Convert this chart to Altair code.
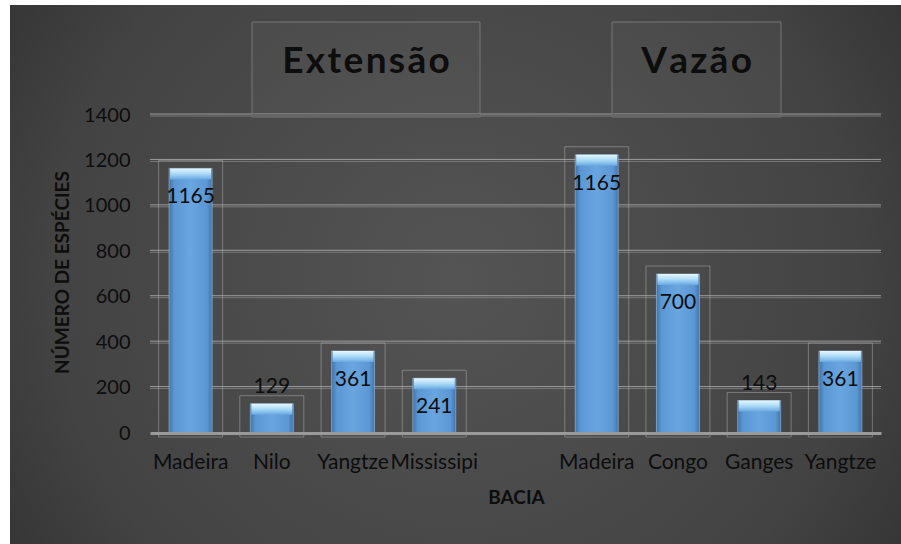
import json
import altair as alt
import pandas as pd

# ---- data ----
rivers = ["Madeira", "Nilo", "Yangtze", "Mississipi", "", "Madeira", "Congo", "Ganges", "Yangtze"]
bar_heights = [1165, 129, 361, 241, None, 1225, 700, 143, 361]
value_labels = ["1165", "129", "361", "241", "", "1165", "700", "143", "361"]
group_titles = ["Extensão", "Vazão"]
y_ticks = [0, 200, 400, 600, 800, 1000, 1200, 1400]

keys = [str(i) for i in range(len(rivers))]
rows = [
    {"key": k, "value": v, "label": l}
    for k, v, l in zip(keys, bar_heights, value_labels)
    if v is not None
]
df = pd.DataFrame(rows)
grid_df = pd.DataFrame({"value": y_ticks[1:]})

W, H = 731, 318
FONT = "Lato"
TXT = "#0d0d0d"
YSCALE = alt.Scale(domain=[0, 1400], nice=False)

label_expr = json.dumps(rivers) + "[toNumber(datum.value)]"

xs = alt.X(
    "key:N",
    scale=alt.Scale(domain=keys, paddingInner=0.47, paddingOuter=0.235),
    axis=alt.Axis(
        title="BACIA", labelExpr=label_expr, labelAngle=0, labelFontSize=21,
        labelColor=TXT, labelFont=FONT, labelPadding=18, ticks=False,
        domainColor="#9a9a9a", domainWidth=3, grid=False, zindex=1,
        titleFontSize=19, titleFont=FONT, titleFontWeight="bold", titleColor=TXT,
        titleX=366, titleY=64, titleBaseline="middle", titleAlign="center",
    ),
)
y_axis = alt.Axis(
    title="NÚMERO DE ESPÉCIES", values=y_ticks, format="d", labelFontSize=20,
    labelColor=TXT, labelFont=FONT, labelPadding=20, ticks=False, domain=False,
    grid=False, zindex=1,
    titleFontSize=19, titleFont=FONT, titleFontWeight="bold", titleColor=TXT,
    titleX=-88, titleY=157, titleAngle=-90, titleAlign="center", titleBaseline="middle",
)
ys = alt.Y("value:Q", scale=YSCALE, axis=y_axis)

base = alt.Chart(df)
one = pd.DataFrame({"a": [0]})

# background panel (radial dark gradient) covering the canvas except the white frame
bg = alt.Chart(one).mark_rect(
    fill=alt.RadialGradient(
        gradient="radial", x1=0.5, y1=0.5, x2=0.5, y2=0.5, r1=0, r2=0.75,
        stops=[alt.GradientStop(offset=0, color="#545454"),
               alt.GradientStop(offset=0.6, color="#434343"),
               alt.GradientStop(offset=1, color="#262626")],
    )
).encode(x=alt.value(-140), x2=alt.value(751), y=alt.value(-110), y2=alt.value(429))

# horizontal gridlines (double light lines)
grid_a = alt.Chart(grid_df).mark_rule(color="#9c9c9c", strokeWidth=1, yOffset=-1).encode(
    y=ys, x=alt.value(0), x2=alt.value(W))
grid_b = alt.Chart(grid_df).mark_rule(color="#7a7a7a", strokeWidth=1, yOffset=1).encode(
    y=ys, x=alt.value(0), x2=alt.value(W))

# title boxes and titles (layout decorations, pixel placed)
deco = []
for title, x0, x1 in zip(group_titles, [102, 462], [330, 631]):
    deco.append(alt.Chart(one).mark_rect(
        fill="#ffffff", fillOpacity=0.03, stroke="#777777", strokeWidth=1
    ).encode(x=alt.value(x0), x2=alt.value(x1), y=alt.value(-93), y2=alt.value(2)))
    deco.append(alt.Chart(one).mark_rect(fill="#666666").encode(
        x=alt.value(x0), x2=alt.value(x1), y=alt.value(-1), y2=alt.value(2)))
    deco.append(alt.Chart(one).mark_text(
        font=FONT, fontSize=37, fontWeight="bold", color="#0d0d0d", baseline="middle",
        text="\u200a".join(title),
    ).encode(x=alt.value((x0 + x1) / 2), y=alt.value(-53)))

# faint outline boxes around each bar
outline = base.mark_bar(
    size=64, fill="#ffffff", fillOpacity=0.0, stroke="#bbbbbb", strokeOpacity=0.45,
    strokeWidth=1, yOffset=-8, y2Offset=4,
).encode(x=xs, y=ys, y2=alt.datum(0))

bars = base.mark_bar(
    size=43, stroke="#9fc3e6", strokeWidth=1, strokeOpacity=0.6,
    fill=alt.LinearGradient(
        gradient="linear", x1=0, y1=0, x2=1, y2=0,
        stops=[alt.GradientStop(offset=0, color="#3f74ad"),
               alt.GradientStop(offset=0.12, color="#5b97d3"),
               alt.GradientStop(offset=0.5, color="#69a6e0"),
               alt.GradientStop(offset=0.88, color="#5b97d3"),
               alt.GradientStop(offset=1, color="#3f74ad")],
    ),
).encode(x=xs, y=ys, y2=alt.datum(0))

bevel = base.mark_bar(
    size=41, y2Offset=11,
    fill=alt.LinearGradient(
        gradient="linear", x1=0, y1=0, x2=0, y2=1,
        stops=[alt.GradientStop(offset=0, color="#e8f7ff"),
               alt.GradientStop(offset=0.5, color="#a9daf6"),
               alt.GradientStop(offset=1, color="#6aa8e2")],
    ),
).encode(x=xs, y=ys, y2="value:Q")

lab_in = base.transform_filter("datum.value >= 200").mark_text(
    font=FONT, fontSize=21, color=TXT, baseline="middle", dy=29,
).encode(x=xs, y=ys, text="label:N")
lab_out = base.transform_filter("datum.value < 200").mark_text(
    font=FONT, fontSize=21, color=TXT, baseline="middle", dy=-17,
).encode(x=xs, y=ys, text="label:N")

chart = alt.layer(
    bg, grid_a, grid_b, *deco, outline, bars, bevel, lab_in, lab_out
).properties(
    width=W, height=H,
    padding={"left": 150, "top": 115, "right": 20, "bottom": 111},
    autosize=alt.AutoSizeParams(type="none"),
    background="#ffffff",
).configure_view(stroke=None)

chart.save("out.html", embed_options={"renderer": "svg", "actions": False})
